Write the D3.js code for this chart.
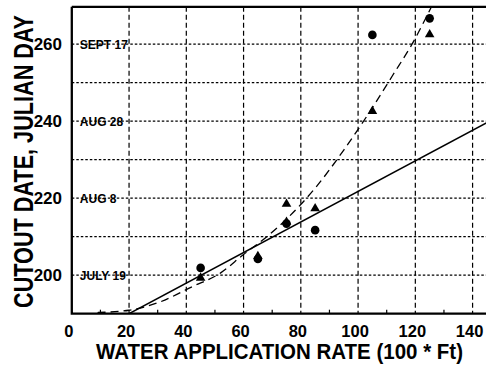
<!DOCTYPE html>
<html>
<head>
<meta charset="utf-8">
<script src="https://cdn.jsdelivr.net/npm/d3@7"></script>
<style>
  body { margin: 0; background: #fff; }
  svg { display: block; font-family: "Liberation Sans", Arial, Helvetica, sans-serif; }
</style>
</head>
<body>
<div class="canvas"></div>
<script>
const dims = { width: 486, height: 369 };

// plot area (pixels)
const plot = { left: 71.8, top: 6.8, right: 486.9, bottom: 313.7 };

// data
const xTicks = [0, 20, 40, 60, 80, 100, 120, 140];
const xMinorTicks = [10, 30, 50, 70, 90, 110, 130];
const yTicks = [200, 220, 240, 260];
const yGrid = [200, 210, 220, 230, 240, 250, 260];
const dateDays = [200, 220, 240, 260];
const dateLabels = ['JULY 19', 'AUG 8', 'AUG 28', 'SEPT 17'];

const circleX = [45, 65, 75, 85, 105, 125];
const circleY = [201.9, 204.2, 213.4, 211.7, 262.4, 266.7];

const triangleX = [45, 65, 75, 75, 85, 105, 125];
const triangleY = [199.3, 204.9, 213.8, 218.5, 217.3, 242.6, 262.5];

// solid regression line (end points)
const lineX = [20, 145];
const lineY = [190, 239.6];

// dashed curve, points read along it
const curveX = [9, 20, 31, 42, 52, 60, 68, 76, 85, 95, 105, 112, 119, 125.5];
const curveY = [190.3, 190.9, 193.1, 197.0, 200.6, 205.4, 209.9, 215.3, 222.6, 232.5, 243.5, 251.8, 260.2, 269.5];

const svg = d3.select('.canvas').append('svg')
  .attr('width', dims.width)
  .attr('height', dims.height);

const x = d3.scaleLinear().domain([0, 145]).range([plot.left, plot.right]);
const y = d3.scaleLinear().domain([190, 269.7]).range([plot.bottom, plot.top]);

svg.append('clipPath').attr('id', 'clip')
  .append('rect')
    .attr('x', plot.left).attr('y', plot.top)
    .attr('width', dims.width - plot.left)
    .attr('height', plot.bottom - plot.top);

// grid: dashed verticals, dotted horizontals
svg.append('g').selectAll('line')
  .data(xTicks.filter(d => d > 0))
  .enter().append('line')
    .attr('x1', d => x(d)).attr('x2', d => x(d))
    .attr('y1', plot.top).attr('y2', plot.bottom)
    .attr('stroke', '#000')
    .attr('stroke-width', 1.2)
    .attr('stroke-dasharray', '5,3');

svg.append('g').selectAll('line')
  .data(yGrid)
  .enter().append('line')
    .attr('x1', plot.left).attr('x2', dims.width)
    .attr('y1', d => y(d)).attr('y2', d => y(d))
    .attr('stroke', '#000')
    .attr('stroke-width', 1.2)
    .attr('stroke-dasharray', '2.5,2');

// minor ticks on the bottom axis (pointing up)
svg.append('g').selectAll('line')
  .data(xMinorTicks)
  .enter().append('line')
    .attr('x1', d => x(d)).attr('x2', d => x(d))
    .attr('y1', plot.bottom).attr('y2', plot.bottom - 4)
    .attr('stroke', '#000')
    .attr('stroke-width', 1.2);

// date labels inside the plot
svg.append('g').selectAll('text')
  .data(dateDays)
  .enter().append('text')
    .attr('x', plot.left + 8)
    .attr('y', d => y(d))
    .attr('dy', 4.5)
    .attr('font-size', 12)
    .attr('font-weight', 'bold')
    .text((d, i) => dateLabels[i]);

const marks = svg.append('g').attr('clip-path', 'url(#clip)');

// solid line
marks.append('path')
  .attr('d', d3.line().x(d => x(d[0])).y(d => y(d[1]))(lineX.map((d, i) => [d, lineY[i]])))
  .attr('fill', 'none')
  .attr('stroke', '#000')
  .attr('stroke-width', 1.5);

// dashed curve
marks.append('path')
  .attr('d', d3.line().curve(d3.curveMonotoneX)
    .x(d => x(d[0])).y(d => y(d[1]))(curveX.map((d, i) => [d, curveY[i]])))
  .attr('fill', 'none')
  .attr('stroke', '#000')
  .attr('stroke-width', 1.3)
  .attr('stroke-dasharray', '8,5');

// circles
marks.selectAll('circle')
  .data(circleX.map((d, i) => [d, circleY[i]]))
  .enter().append('circle')
    .attr('cx', d => x(d[0]))
    .attr('cy', d => y(d[1]))
    .attr('r', 4.3)
    .attr('fill', '#000');

// triangles
marks.selectAll('path.tri')
  .data(triangleX.map((d, i) => [d, triangleY[i]]))
  .enter().append('path')
    .attr('class', 'tri')
    .attr('transform', d => `translate(${x(d[0])}, ${y(d[1])})`)
    .attr('d', d3.symbol(d3.symbolTriangle, 40))
    .attr('fill', '#000');

// frame: left axis, bottom axis, top border
svg.append('path')
  .attr('d', `M${plot.left},${plot.top}V${plot.bottom}H${dims.width}`)
  .attr('fill', 'none')
  .attr('stroke', '#000')
  .attr('stroke-width', 2.3);
svg.append('line')
  .attr('x1', plot.left).attr('x2', dims.width)
  .attr('y1', plot.top).attr('y2', plot.top)
  .attr('stroke', '#000')
  .attr('stroke-width', 2.3);

// tick labels
svg.append('g').selectAll('text')
  .data(xTicks)
  .enter().append('text')
    .attr('x', d => x(d) - 3)
    .attr('y', 336.5)
    .attr('text-anchor', 'middle')
    .attr('font-size', 16.5)
    .attr('font-weight', 'bold')
    .text(d => d);

svg.append('g').selectAll('text')
  .data(yTicks)
  .enter().append('text')
    .attr('x', 62)
    .attr('y', d => y(d))
    .attr('dy', 6.3)
    .attr('text-anchor', 'end')
    .attr('font-size', 17)
    .attr('font-weight', 'bold')
    .text(d => d);

// axis titles
svg.append('text')
  .attr('transform', `translate(279.5, 358.5) scale(1, 1.12)`)
  .attr('text-anchor', 'middle')
  .attr('font-size', 19.5)
  .attr('font-weight', 'bold')
  .attr('textLength', 367)
  .attr('lengthAdjust', 'spacingAndGlyphs')
  .text('WATER APPLICATION RATE (100 * Ft)');

svg.append('text')
  .attr('transform', `translate(33.3, 161.5) rotate(-90) scale(1, 1.3)`)
  .attr('text-anchor', 'middle')
  .attr('font-size', 21.5)
  .attr('font-weight', 'bold')
  .attr('textLength', 293)
  .attr('lengthAdjust', 'spacingAndGlyphs')
  .text('CUTOUT DATE, JULIAN DAY');
</script>
</body>
</html>
